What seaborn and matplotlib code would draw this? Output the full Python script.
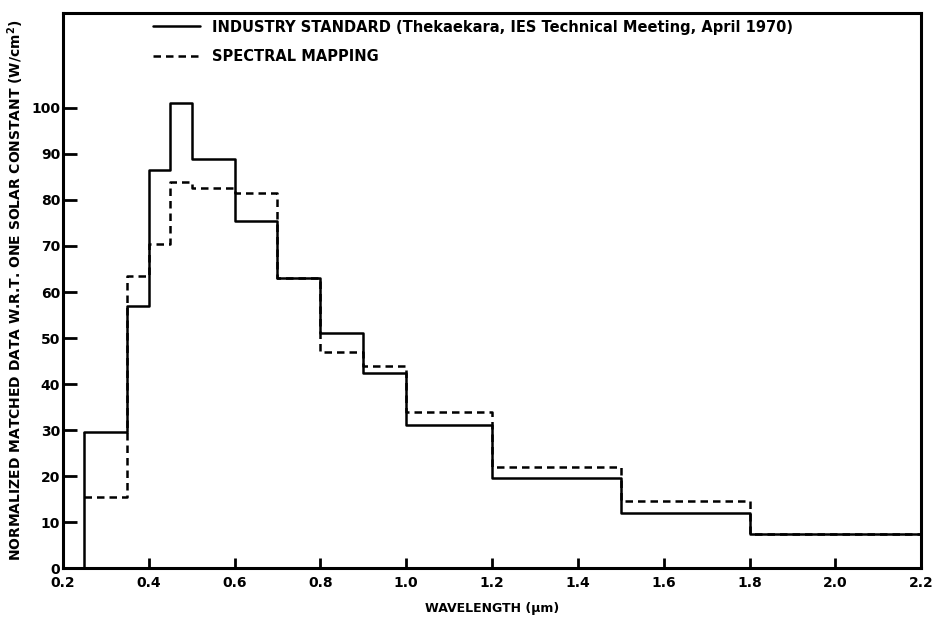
#!/usr/bin/env python3
# Step plot: industry standard vs spectral mapping, normalised to one solar constant
import numpy as np
import pandas as pd
import matplotlib
matplotlib.use("Agg")
import matplotlib.pyplot as plt
import seaborn as sns
from matplotlib.lines import Line2D

# bin edges (um) and bin values
bin_edges = [0.25, 0.35, 0.40, 0.45, 0.50, 0.60, 0.70, 0.80, 0.90, 1.00, 1.20, 1.50, 1.80, 2.20]
industry_standard = [29.5, 57, 86.5, 101, 89, 75.5, 63, 51, 42.5, 31, 19.5, 12, 7.5]
spectral_mapping = [15.5, 63.5, 70.5, 84, 82.5, 81.5, 63, 47, 44, 34, 22, 14.5, 7.5]

x_ticks = [0.2, 0.4, 0.6, 0.8, 1.0, 1.2, 1.4, 1.6, 1.8, 2.0, 2.2]
x_tick_labels = ["0.2", "0.4", "0.6", "0.8", "1.0", "1.2", "1.4", "1.6", "1.8", "2.0", "2.2"]
y_ticks = [0, 10, 20, 30, 40, 50, 60, 70, 80, 90, 100]

sns.set_theme(style="white")
plt.rcParams['font.family'] = ['DejaVu Sans']
plt.rcParams['font.weight'] = 'bold'
plt.rcParams['text.color'] = 'black'
plt.rcParams['axes.labelcolor'] = 'black'
plt.rcParams['xtick.color'] = 'black'
plt.rcParams['ytick.color'] = 'black'

# steps-post: repeat the last value at the closing edge
std_df = pd.DataFrame({"wl": bin_edges, "val": industry_standard + [industry_standard[-1]]})
map_df = pd.DataFrame({"wl": bin_edges, "val": spectral_mapping + [spectral_mapping[-1]]})

fig = plt.figure(figsize=(9.39, 6.25), dpi=100)
ax = fig.add_axes([0.067, 0.091, 0.914, 0.888])

sns.lineplot(data=map_df, x="wl", y="val", drawstyle="steps-post", color="black",
             linewidth=1.8, linestyle=(0, (3, 2)), ax=ax)
sns.lineplot(data=std_df, x="wl", y="val", drawstyle="steps-post", color="black",
             linewidth=1.8, ax=ax)
# closing vertical of the standard curve down to 0 at the start
ax.vlines([bin_edges[0]], 0, industry_standard[0], color="black", linewidth=1.8)

ax.set_xlim(0.2, 2.2)
ax.set_ylim(0, 120.6)
ax.set_xticks(x_ticks)
ax.set_xticklabels(x_tick_labels, fontsize=10, fontweight="bold")
ax.set_yticks(y_ticks)
ax.set_yticklabels([str(v) for v in y_ticks], fontsize=10, fontweight="bold")
ax.tick_params(axis="y", direction="in", length=10, width=2, pad=2, left=True)
ax.tick_params(axis="x", direction="in", length=7, width=2, pad=6, bottom=True)

for side in ax.spines.values():
    side.set_linewidth(2.2)
    side.set_color("black")

ax.set_xlabel("WAVELENGTH (\u03bcm)", fontsize=9, fontweight="bold", labelpad=8)
ax.set_ylabel("NORMALIZED MATCHED DATA W.R.T. ONE SOLAR CONSTANT (W/cm$^2$)",
              fontsize=10, fontweight="bold", labelpad=4)

handles = [Line2D([0], [0], color="black", linewidth=1.8),
           Line2D([0], [0], color="black", linewidth=1.8, linestyle=(0, (3, 2)))]
labels = ["INDUSTRY STANDARD (Thekaekara, IES Technical Meeting, April 1970)",
          "SPECTRAL MAPPING"]
ax.legend(handles, labels, loc="upper left", bbox_to_anchor=(0.09, 1.012), frameon=False,
          prop={"weight": "bold", "size": 10.5}, handlelength=3.2,
          labelspacing=1.0)

plt.savefig("out.png", dpi=100)
